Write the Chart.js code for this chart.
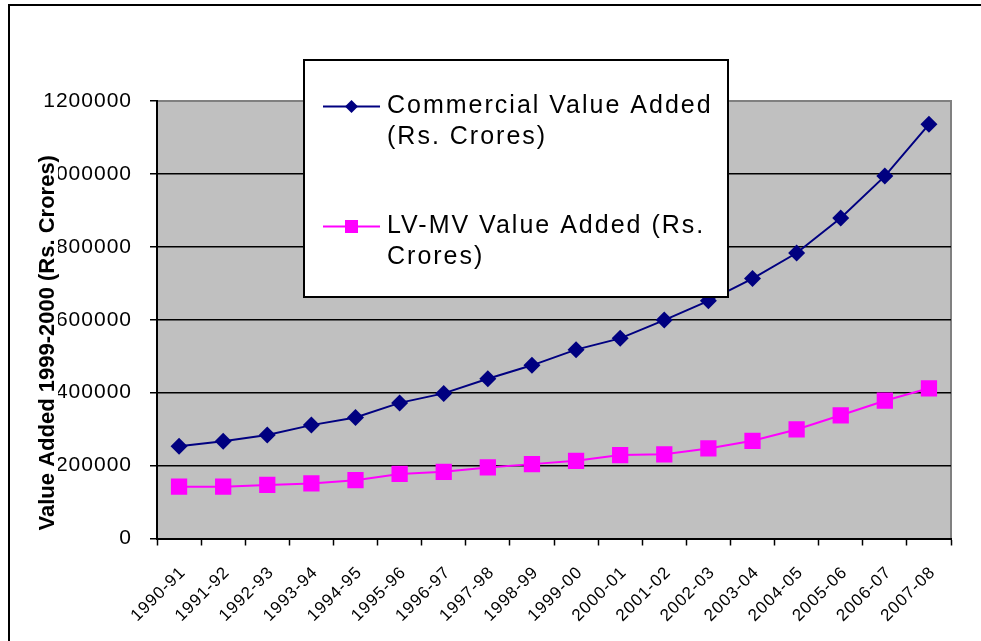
<!DOCTYPE html>
<html>
<head>
<meta charset="utf-8">
<script src="https://cdn.jsdelivr.net/npm/chart.js@4.4.1/dist/chart.umd.min.js"></script>
<style>
  html, body { margin: 0; padding: 0; background: #fff; }
  #wrap { position: relative; width: 981px; height: 641px; }
</style>
</head>
<body>
<div id="wrap"><canvas id="chart"></canvas></div>
<script>
// data
const categories = ['1990-91', '1991-92', '1992-93', '1993-94', '1994-95', '1995-96',
    '1996-97', '1997-98', '1998-99', '1999-00', '2000-01', '2001-02',
    '2002-03', '2003-04', '2004-05', '2005-06', '2006-07', '2007-08'];
const commercialValues = [253000, 267000, 284000, 311000, 332000, 372000, 398000, 438000, 475000,
    518000, 549000, 599000, 652000, 713000, 783000, 879000, 994000, 1136000];
const lvmvValues = [142000, 142000, 147000, 151000, 160000, 177000, 183000, 195000, 204000,
    213000, 229000, 231000, 247000, 268000, 299000, 338000, 378000, 412000];
const yMin = 0;
const yMax = 1200000;
const yStep = 200000;
const seriesNames = ['Commercial Value Added (Rs. Crores)', 'LV-MV Value Added (Rs. Crores)'];
const yTitle = 'Value Added 1999-2000 (Rs. Crores)';

const FONT = 'Arial, "Liberation Sans", sans-serif';

// frame, plot background, text spacing
const backdrop = {
    id: 'backdrop',
    beforeDraw(chart) {
        const { ctx, chartArea: a } = chart;
        ctx.save();
        ctx.strokeStyle = '#000';
        ctx.lineWidth = 2;
        ctx.beginPath();
        ctx.moveTo(9, chart.height + 2);
        ctx.lineTo(9, 5);
        ctx.lineTo(chart.width + 2, 5);
        ctx.stroke();
        ctx.fillStyle = '#c0c0c0';
        ctx.fillRect(a.left, a.top, a.right - a.left, a.bottom - a.top);
        ctx.strokeStyle = '#808080';
        ctx.beginPath();
        ctx.moveTo(a.left, a.top);
        ctx.lineTo(a.right, a.top);
        ctx.lineTo(a.right, a.bottom);
        ctx.stroke();
        ctx.restore();
        ctx.letterSpacing = '1px';
    }
};

function drawMarker(ctx, style, x, y, color) {
    ctx.fillStyle = color;
    ctx.beginPath();
    if (style === 'rectRot') {
        const r = 6.5;
        ctx.moveTo(x, y - r);
        ctx.lineTo(x + r, y);
        ctx.lineTo(x, y + r);
        ctx.lineTo(x - r, y);
        ctx.closePath();
    } else {
        const s = 6.5;
        ctx.rect(x - s, y - s, 2 * s, 2 * s);
    }
    ctx.fill();
}

function wrapText(ctx, text, maxW) {
    const words = text.split(' ');
    const lines = [];
    let cur = '';
    words.forEach(w => {
        const test = cur ? cur + ' ' + w : w;
        if (ctx.measureText(test).width > maxW && cur) {
            lines.push(cur);
            cur = w;
        } else {
            cur = test;
        }
    });
    if (cur) lines.push(cur);
    return lines;
}

// legend box and y title, drawn on top
const overlay = {
    id: 'overlay',
    afterDraw(chart) {
        const { ctx, chartArea: a } = chart;
        ctx.save();

        // legend box
        const box = { x: 304, y: 60, w: 424, h: 237 };
        ctx.fillStyle = '#fff';
        ctx.fillRect(box.x, box.y, box.w, box.h);
        ctx.strokeStyle = '#000';
        ctx.lineWidth = 2;
        ctx.strokeRect(box.x, box.y, box.w, box.h);

        ctx.font = '25px ' + FONT;
        ctx.letterSpacing = '2px';
        ctx.textBaseline = 'middle';
        ctx.textAlign = 'left';
        const rowTops = [106.5, 226.5];
        chart.data.datasets.forEach((ds, i) => {
            const yy = rowTops[i];
            ctx.strokeStyle = ds.borderColor;
            ctx.lineWidth = 2;
            ctx.beginPath();
            ctx.moveTo(323, yy);
            ctx.lineTo(380, yy);
            ctx.stroke();
            drawMarker(ctx, ds.pointStyle, 351.5, yy, ds.borderColor);
            ctx.fillStyle = '#000';
            const lines = wrapText(ctx, ds.label, 332);
            lines.forEach((ln, k) => ctx.fillText(ln, 387, yy + k * 31));
        });

        // y axis title
        ctx.letterSpacing = '0px';
        ctx.font = 'bold 22px ' + FONT;
        const tw = ctx.measureText(yTitle).width;
        const cy = (a.top + a.bottom) / 2 + 23;
        ctx.translate(54, cy);
        ctx.rotate(-Math.PI / 2);
        ctx.fillStyle = '#fff';
        ctx.fillRect(-tw / 2 - 1, -17, tw + 2, 21);
        ctx.fillStyle = '#000';
        ctx.textAlign = 'center';
        ctx.textBaseline = 'alphabetic';
        ctx.fillText(yTitle, 0, 0);
        ctx.restore();
    }
};

const ctx = document.getElementById('chart').getContext('2d');
const chart = new Chart(ctx, {
    type: 'line',
    data: {
        labels: categories,
        datasets: [{
            label: seriesNames[0],
            data: commercialValues,
            borderColor: '#000080',
            backgroundColor: '#000080',
            borderWidth: 2,
            pointStyle: 'rectRot',
            pointRadius: 8.5,
            pointBorderWidth: 0,
            tension: 0
        }, {
            label: seriesNames[1],
            data: lvmvValues,
            borderColor: '#ff00ff',
            backgroundColor: '#ff00ff',
            borderWidth: 2,
            pointStyle: 'rect',
            pointRadius: 11.5,
            pointBorderWidth: 0,
            tension: 0
        }]
    },
    options: {
        responsive: true,
        maintainAspectRatio: false,
        animation: false,
        layout: { padding: { top: 101, right: 30, left: 0, bottom: 0 } },
        plugins: {
            legend: { display: false },
            tooltip: { enabled: false },
            title: { display: false }
        },
        scales: {
            x: {
                type: 'category',
                offset: true,
                afterFit: scale => { scale.height = 102.5; },
                grid: {
                    offset: true,
                    drawOnChartArea: false,
                    drawTicks: true,
                    tickLength: 7,
                    tickColor: '#000',
                    tickWidth: 1.5
                },
                border: { color: '#000', width: 2 },
                ticks: {
                    autoSkip: false,
                    maxRotation: 45,
                    minRotation: 45,
                    color: '#000',
                    padding: 17,
                    labelOffset: 4,
                    font: { family: FONT, size: 17 }
                }
            },
            y: {
                min: yMin,
                max: yMax,
                afterFit: scale => { scale.width = 157; },
                grid: {
                    color: c => (c.tick && c.tick.value === yMax ? 'rgba(0,0,0,0)' : '#000'),
                    lineWidth: 1.5,
                    tickLength: 7,
                    tickColor: '#000',
                    tickWidth: 1.5
                },
                border: { color: '#000', width: 2 },
                ticks: {
                    stepSize: yStep,
                    color: '#000',
                    padding: 18,
                    font: { family: FONT, size: 21 },
                    callback: v => String(v)
                }
            }
        }
    },
    plugins: [backdrop, overlay]
});
</script>
</body>
</html>
